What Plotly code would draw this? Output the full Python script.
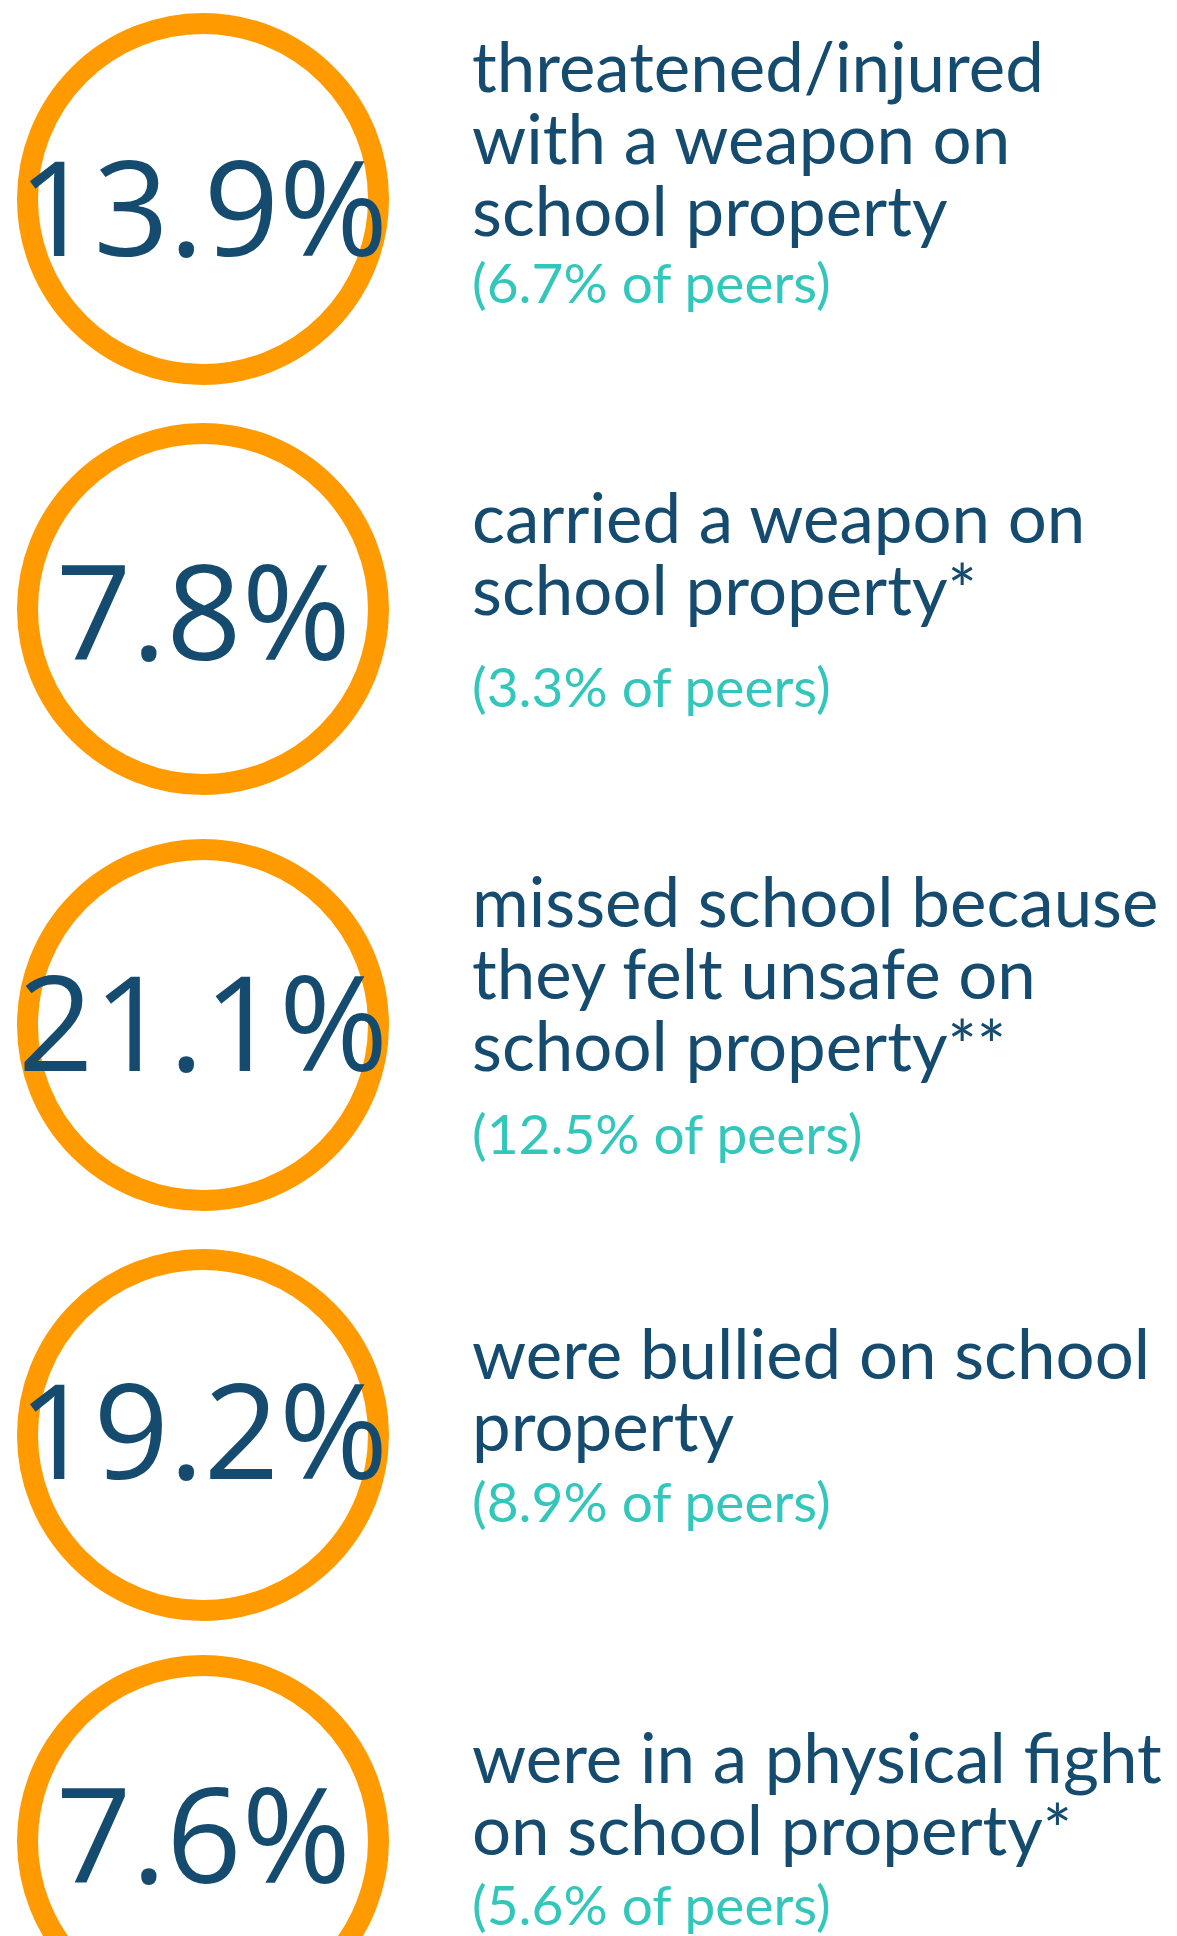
"""Infographic: school-safety percentages vs. peers, drawn as orange rings + text."""

import plotly.graph_objects as go

# --- data ---------------------------------------------------------------
VALUES = ["13.9%", "7.8%", "21.1%", "19.2%", "7.6%"]
LABELS = [
    ["threatened/injured", "with a weapon on", "school property"],
    ["carried a weapon on", "school property*"],
    ["missed school because", "they felt unsafe on", "school property**"],
    ["were bullied on school", "property"],
    ["were in a physical fight", "on school property*"],
]
PEERS = ["6.7%", "3.3%", "12.5%", "8.9%", "5.6%"]

# --- layout (pixels on a 1177 x 1936 canvas) -----------------------------
W, H = 1177, 1936
PAGE_PAD = 8          # browser body margin around the plot div
CX = 203
CENTERS = [199, 609, 1025, 1435, 1841]
RING_R = 175.5        # radius to middle of the ring stroke
RING_W = 21
LABEL_X = 470
FIRST_BASELINE = [92, 543, 927, 1379, 1783]
PEER_BASELINE = [303, 707, 1154, 1522, 1925]
NUM_BASELINE = [256, 660, 1071, 1479, 1883]
LINE_STEP = 72

NAVY = "#154b6f"
TEAL = "#33c6bb"
ORANGE = "#ff9b00"

NUM_FONT = dict(family="Open Sans", size=132, color=NAVY, weight=400)
LBL_FONT = dict(family="Lato", size=69, color=NAVY)
PEER_FONT = dict(family="Lato", size=55, color=TEAL)


def mid_from_baseline(base, size):
    # annotation boxes are centred roughly 0.39 em above the text baseline
    return base - 0.39 * size


fig = go.Figure()

shapes = []
for cy in CENTERS:
    shapes.append(
        dict(
            type="circle", xref="x", yref="y",
            x0=CX - RING_R, x1=CX + RING_R, y0=cy - RING_R, y1=cy + RING_R,
            line=dict(color=ORANGE, width=RING_W),
            fillcolor="rgba(0,0,0,0)",
            layer="below",
        )
    )

annotations = []
for i, val in enumerate(VALUES):
    annotations.append(
        dict(
            x=CX, y=mid_from_baseline(NUM_BASELINE[i], NUM_FONT["size"]),
            xref="x", yref="y", text=val, showarrow=False,
            xanchor="center", yanchor="middle", font=NUM_FONT,
        )
    )
    for j, line in enumerate(LABELS[i]):
        base = FIRST_BASELINE[i] + j * LINE_STEP
        annotations.append(
            dict(
                x=LABEL_X, y=mid_from_baseline(base, LBL_FONT["size"]),
                xref="x", yref="y", text=line, showarrow=False,
                xanchor="left", yanchor="middle", font=LBL_FONT,
            )
        )
    annotations.append(
        dict(
            x=LABEL_X, y=mid_from_baseline(PEER_BASELINE[i], PEER_FONT["size"]),
            xref="x", yref="y", text=f"({PEERS[i]} of peers)", showarrow=False,
            xanchor="left", yanchor="middle", font=PEER_FONT,
        )
    )

fig.update_layout(
    width=W,
    height=H,
    margin=dict(l=0, r=0, t=0, b=0),
    paper_bgcolor="white",
    plot_bgcolor="white",
    showlegend=False,
    shapes=shapes,
    annotations=annotations,
)
# shift the ranges by the page margin so marks land on the reference pixels
fig.update_xaxes(range=[PAGE_PAD, W + PAGE_PAD], visible=False, fixedrange=True)
fig.update_yaxes(range=[H + PAGE_PAD, PAGE_PAD], visible=False, fixedrange=True)

fig.write_html("out.html")
